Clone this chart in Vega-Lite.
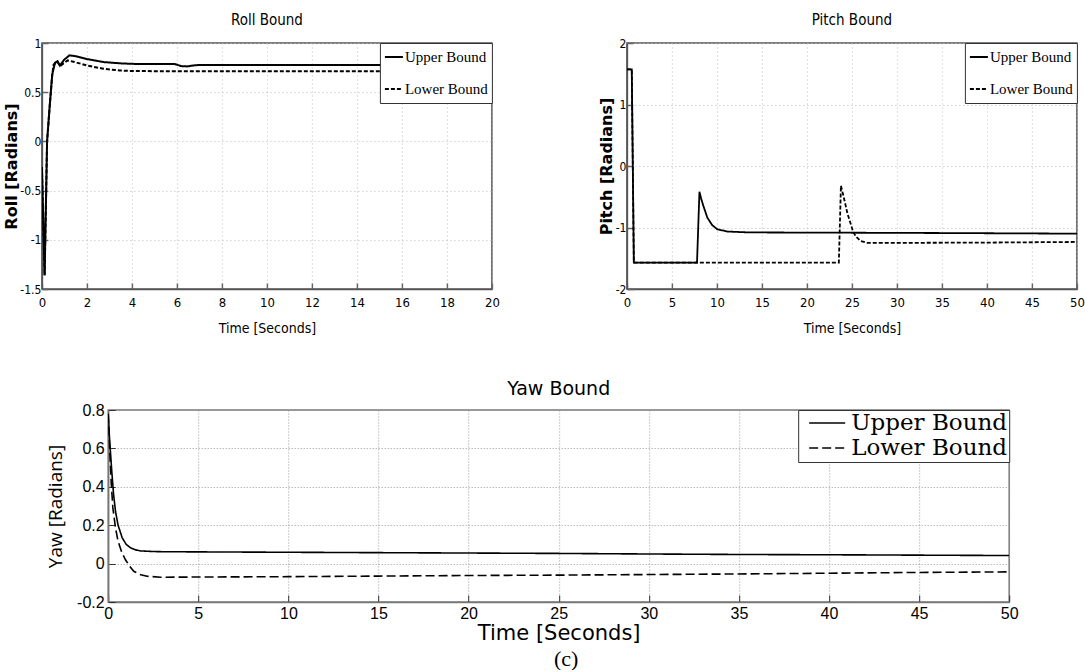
{
  "$schema": "https://vega.github.io/schema/vega-lite/v6.json",
  "background": "white",
  "padding": {"left": 2.5, "top": 12, "right": 0, "bottom": 0},
  "title": {"text": "(c)", "orient": "bottom", "anchor": "middle", "font": "Liberation Serif", "fontSize": 22, "fontWeight": "normal", "color": "black", "offset": 5, "dx": 22},
  "config": {
    "view": {"stroke": "#555", "strokeWidth": 1.5},
    "axis": {"labelColor": "black", "titleColor": "black", "labelFlush": false, "labelOverlap": false, "grid": true, "gridDash": [1, 3], "gridColor": "#bbb", "domainColor": "#555", "domainWidth": 1.5, "tickColor": "#666", "tickWidth": 1.5, "tickSize": -6, "titleFontWeight": "normal"}
  },
  "center": true,
  "spacing": 43,
  "resolve": {"scale": {"strokeDash": "independent"}, "legend": {"strokeDash": "independent"}},
  "vconcat": [
    {
      "hconcat": [
        {
          "width": 450, "height": 246,
          "title": {"text": "Roll Bound", "font": "DejaVu Sans Condensed, sans-serif", "fontSize": 15, "fontWeight": "normal", "color": "black", "offset": 9},
          "data": {"name": "roll"},
          "mark": {"type": "line", "strokeWidth": 2, "color": "black", "clip": true},
          "encoding": {
            "x": {"field": "t", "type": "quantitative", "scale": {"domain": [0, 20], "nice": false, "zero": false},
              "axis": {"values": [0, 2, 4, 6, 8, 10, 12, 14, 16, 18, 20], "title": "Time [Seconds]", "titleFont": "DejaVu Sans Condensed, sans-serif", "titleFontSize": 14, "titlePadding": 12, "labelFont": "DejaVu Sans Condensed, sans-serif", "labelFontSize": 13, "labelPadding": 13}},
            "y": {"field": "v", "type": "quantitative", "scale": {"domain": [-1.5, 1], "nice": false, "zero": false},
              "axis": {"values": [-1.5, -1, -0.5, 0, 0.5, 1], "labelExpr": "datum.value + ''", "title": "Roll [Radians]", "titleFont": "DejaVu Sans", "titleFontWeight": "bold", "titleFontSize": 16, "titlePadding": 0, "labelFont": "DejaVu Sans Condensed, sans-serif", "labelFontSize": 12, "labelPadding": 7}},
            "strokeDash": {"field": "bound", "type": "nominal", "scale": {"domain": ["Upper Bound", "Lower Bound"], "range": [[1, 0], [4, 2]]},
              "legend": {"title": null, "orient": "top-right", "offset": 0, "padding": 4, "fillColor": "white", "strokeColor": "#333", "labelFont": "Liberation Serif", "labelFontSize": 15, "labelColor": "black", "symbolType": "stroke", "symbolSize": 324, "symbolStrokeWidth": 1.8, "symbolStrokeColor": "black", "labelOffset": 1, "clipHeight": 20, "rowPadding": 12, "labelLimit": 300}}
          }
        },
        {
          "width": 450, "height": 246,
          "title": {"text": "Pitch Bound", "font": "DejaVu Sans Condensed, sans-serif", "fontSize": 15, "fontWeight": "normal", "color": "black", "offset": 9},
          "data": {"name": "pitch"},
          "mark": {"type": "line", "strokeWidth": 1.8, "color": "black", "clip": true},
          "encoding": {
            "x": {"field": "t", "type": "quantitative", "scale": {"domain": [0, 50], "nice": false, "zero": false},
              "axis": {"values": [0, 5, 10, 15, 20, 25, 30, 35, 40, 45, 50], "title": "Time [Seconds]", "titleFont": "DejaVu Sans Condensed, sans-serif", "titleFontSize": 14, "titlePadding": 12, "labelFont": "DejaVu Sans Condensed, sans-serif", "labelFontSize": 13, "labelPadding": 13}},
            "y": {"field": "v", "type": "quantitative", "scale": {"domain": [-2, 2], "nice": false, "zero": false},
              "axis": {"values": [-2, -1, 0, 1, 2], "labelExpr": "datum.value + ''", "title": "Pitch [Radians]", "titleFont": "DejaVu Sans", "titleFontWeight": "bold", "titleFontSize": 16, "titlePadding": 1, "labelFont": "DejaVu Sans Condensed, sans-serif", "labelFontSize": 12, "labelPadding": 7}},
            "strokeDash": {"field": "bound", "type": "nominal", "scale": {"domain": ["Upper Bound", "Lower Bound"], "range": [[1, 0], [4, 2]]},
              "legend": {"title": null, "orient": "top-right", "offset": 0, "padding": 4, "fillColor": "white", "strokeColor": "#333", "labelFont": "Liberation Serif", "labelFontSize": 15, "labelColor": "black", "symbolType": "stroke", "symbolSize": 324, "symbolStrokeWidth": 1.8, "symbolStrokeColor": "black", "labelOffset": 1, "clipHeight": 20, "rowPadding": 12, "labelLimit": 300}}
          }
        }
      ],
      "spacing": 135,
      "bounds": "flush",
      "resolve": {"scale": {"strokeDash": "independent"}, "legend": {"strokeDash": "independent"}}
    },
    {
      "width": 901, "height": 192,
      "title": {"text": "Yaw Bound", "font": "DejaVu Sans", "fontSize": 19, "fontWeight": "normal", "color": "black", "offset": 3},
      "view": {"stroke": "#777", "strokeWidth": 1.5},
      "data": {"name": "yaw"},
      "mark": {"type": "line", "strokeWidth": 1.6, "color": "black", "clip": true},
      "encoding": {
        "x": {"field": "t", "type": "quantitative", "scale": {"domain": [0, 50], "nice": false, "zero": false},
          "axis": {"values": [0, 5, 10, 15, 20, 25, 30, 35, 40, 45, 50], "title": "Time [Seconds]", "titleFont": "DejaVu Sans", "titleFontSize": 21, "titlePadding": 1, "labelFont": "Liberation Sans", "labelFontSize": 16, "labelPadding": 10, "tickSize": -7, "tickColor": "#333", "tickWidth": 1, "gridColor": "#999", "gridDash": [1, 2], "domainColor": "#777"}},
        "y": {"field": "v", "type": "quantitative", "scale": {"domain": [-0.2, 0.8], "nice": false, "zero": false},
          "axis": {"values": [-0.2, 0, 0.2, 0.4, 0.6, 0.8], "labelExpr": "datum.value + ''", "title": "Yaw [Radians]", "titleFont": "Open Sans", "titleFontSize": 19, "titlePadding": 11, "labelFont": "Liberation Sans", "labelFontSize": 16, "labelPadding": 11, "tickSize": -7, "tickColor": "#333", "tickWidth": 1, "gridColor": "#999", "gridDash": [1, 2], "domainColor": "#777"}},
        "strokeDash": {"field": "bound", "type": "nominal", "scale": {"domain": ["Upper Bound", "Lower Bound"], "range": [[1, 0], [9, 4]]},
          "legend": {"title": null, "orient": "top-right", "offset": 0, "padding": 2, "fillColor": "white", "strokeColor": "#333", "labelFont": "DejaVu Serif", "labelFontSize": 23, "labelColor": "black", "symbolType": "stroke", "symbolSize": 1296, "symbolStrokeWidth": 1.5, "symbolStrokeColor": "black", "symbolOffset": 8, "labelOffset": 5, "clipHeight": 22, "rowPadding": 2, "labelLimit": 400}}
      }
    }
  ],
  "datasets": {
    "roll": [
      {"t": 0, "v": -0.26, "bound": "Upper Bound"},
      {"t": 0.12, "v": -1.36, "bound": "Upper Bound"},
      {"t": 0.23, "v": 0.0, "bound": "Upper Bound"},
      {"t": 0.35, "v": 0.37, "bound": "Upper Bound"},
      {"t": 0.46, "v": 0.68, "bound": "Upper Bound"},
      {"t": 0.58, "v": 0.8, "bound": "Upper Bound"},
      {"t": 0.69, "v": 0.815, "bound": "Upper Bound"},
      {"t": 0.8, "v": 0.77, "bound": "Upper Bound"},
      {"t": 0.99, "v": 0.83, "bound": "Upper Bound"},
      {"t": 1.22, "v": 0.874, "bound": "Upper Bound"},
      {"t": 1.45, "v": 0.868, "bound": "Upper Bound"},
      {"t": 2.0, "v": 0.837, "bound": "Upper Bound"},
      {"t": 2.75, "v": 0.806, "bound": "Upper Bound"},
      {"t": 3.5, "v": 0.793, "bound": "Upper Bound"},
      {"t": 4.0, "v": 0.788, "bound": "Upper Bound"},
      {"t": 5.0, "v": 0.786, "bound": "Upper Bound"},
      {"t": 5.9, "v": 0.786, "bound": "Upper Bound"},
      {"t": 6.2, "v": 0.765, "bound": "Upper Bound"},
      {"t": 6.45, "v": 0.762, "bound": "Upper Bound"},
      {"t": 6.75, "v": 0.772, "bound": "Upper Bound"},
      {"t": 7.0, "v": 0.777, "bound": "Upper Bound"},
      {"t": 10, "v": 0.777, "bound": "Upper Bound"},
      {"t": 15, "v": 0.777, "bound": "Upper Bound"},
      {"t": 20, "v": 0.777, "bound": "Upper Bound"},
      {"t": 0, "v": -0.26, "bound": "Lower Bound"},
      {"t": 0.12, "v": -1.36, "bound": "Lower Bound"},
      {"t": 0.23, "v": 0.0, "bound": "Lower Bound"},
      {"t": 0.35, "v": 0.37, "bound": "Lower Bound"},
      {"t": 0.46, "v": 0.68, "bound": "Lower Bound"},
      {"t": 0.52, "v": 0.78, "bound": "Lower Bound"},
      {"t": 0.7, "v": 0.81, "bound": "Lower Bound"},
      {"t": 0.8, "v": 0.765, "bound": "Lower Bound"},
      {"t": 0.96, "v": 0.793, "bound": "Lower Bound"},
      {"t": 1.15, "v": 0.823, "bound": "Lower Bound"},
      {"t": 1.4, "v": 0.81, "bound": "Lower Bound"},
      {"t": 2.0, "v": 0.772, "bound": "Lower Bound"},
      {"t": 2.73, "v": 0.738, "bound": "Lower Bound"},
      {"t": 3.47, "v": 0.721, "bound": "Lower Bound"},
      {"t": 4.0, "v": 0.715, "bound": "Lower Bound"},
      {"t": 5.0, "v": 0.714, "bound": "Lower Bound"},
      {"t": 10, "v": 0.714, "bound": "Lower Bound"},
      {"t": 20, "v": 0.714, "bound": "Lower Bound"}
    ],
    "pitch": [
      {"t": 0, "v": 1.57, "bound": "Upper Bound"},
      {"t": 0.54, "v": 1.57, "bound": "Upper Bound"},
      {"t": 0.77, "v": -1.57, "bound": "Upper Bound"},
      {"t": 7.79, "v": -1.57, "bound": "Upper Bound"},
      {"t": 8.06, "v": -0.42, "bound": "Upper Bound"},
      {"t": 8.25, "v": -0.53, "bound": "Upper Bound"},
      {"t": 8.5, "v": -0.65, "bound": "Upper Bound"},
      {"t": 8.94, "v": -0.84, "bound": "Upper Bound"},
      {"t": 9.47, "v": -0.96, "bound": "Upper Bound"},
      {"t": 10.05, "v": -1.03, "bound": "Upper Bound"},
      {"t": 11.2, "v": -1.066, "bound": "Upper Bound"},
      {"t": 13.5, "v": -1.08, "bound": "Upper Bound"},
      {"t": 25, "v": -1.085, "bound": "Upper Bound"},
      {"t": 35, "v": -1.09, "bound": "Upper Bound"},
      {"t": 50, "v": -1.1, "bound": "Upper Bound"},
      {"t": 0, "v": 1.57, "bound": "Lower Bound"},
      {"t": 0.54, "v": 1.57, "bound": "Lower Bound"},
      {"t": 0.77, "v": -1.57, "bound": "Lower Bound"},
      {"t": 23.55, "v": -1.57, "bound": "Lower Bound"},
      {"t": 23.78, "v": -0.32, "bound": "Lower Bound"},
      {"t": 24.0, "v": -0.45, "bound": "Lower Bound"},
      {"t": 24.24, "v": -0.6, "bound": "Lower Bound"},
      {"t": 24.5, "v": -0.77, "bound": "Lower Bound"},
      {"t": 24.82, "v": -0.92, "bound": "Lower Bound"},
      {"t": 25.1, "v": -1.05, "bound": "Lower Bound"},
      {"t": 25.4, "v": -1.14, "bound": "Lower Bound"},
      {"t": 25.97, "v": -1.22, "bound": "Lower Bound"},
      {"t": 26.7, "v": -1.25, "bound": "Lower Bound"},
      {"t": 30, "v": -1.25, "bound": "Lower Bound"},
      {"t": 40, "v": -1.245, "bound": "Lower Bound"},
      {"t": 50, "v": -1.235, "bound": "Lower Bound"}
    ],
    "yaw": [
      {"t": 0, "v": 0.78, "bound": "Upper Bound"},
      {"t": 0.07, "v": 0.66, "bound": "Upper Bound"},
      {"t": 0.2, "v": 0.48, "bound": "Upper Bound"},
      {"t": 0.3, "v": 0.36, "bound": "Upper Bound"},
      {"t": 0.41, "v": 0.27, "bound": "Upper Bound"},
      {"t": 0.55, "v": 0.2, "bound": "Upper Bound"},
      {"t": 0.78, "v": 0.134, "bound": "Upper Bound"},
      {"t": 1.0, "v": 0.1, "bound": "Upper Bound"},
      {"t": 1.24, "v": 0.082, "bound": "Upper Bound"},
      {"t": 1.5, "v": 0.072, "bound": "Upper Bound"},
      {"t": 1.8, "v": 0.066, "bound": "Upper Bound"},
      {"t": 2.5, "v": 0.063, "bound": "Upper Bound"},
      {"t": 3, "v": 0.062, "bound": "Upper Bound"},
      {"t": 5, "v": 0.061, "bound": "Upper Bound"},
      {"t": 10, "v": 0.059, "bound": "Upper Bound"},
      {"t": 15, "v": 0.057, "bound": "Upper Bound"},
      {"t": 20, "v": 0.055, "bound": "Upper Bound"},
      {"t": 25, "v": 0.053, "bound": "Upper Bound"},
      {"t": 30, "v": 0.05, "bound": "Upper Bound"},
      {"t": 35, "v": 0.0475, "bound": "Upper Bound"},
      {"t": 40, "v": 0.046, "bound": "Upper Bound"},
      {"t": 45, "v": 0.044, "bound": "Upper Bound"},
      {"t": 50, "v": 0.042, "bound": "Upper Bound"},
      {"t": 0, "v": 0.78, "bound": "Lower Bound"},
      {"t": 0.08, "v": 0.6, "bound": "Lower Bound"},
      {"t": 0.17, "v": 0.42, "bound": "Lower Bound"},
      {"t": 0.26, "v": 0.29, "bound": "Lower Bound"},
      {"t": 0.4, "v": 0.19, "bound": "Lower Bound"},
      {"t": 0.54, "v": 0.12, "bound": "Lower Bound"},
      {"t": 0.75, "v": 0.06, "bound": "Lower Bound"},
      {"t": 0.96, "v": 0.02, "bound": "Lower Bound"},
      {"t": 1.2, "v": -0.015, "bound": "Lower Bound"},
      {"t": 1.42, "v": -0.04, "bound": "Lower Bound"},
      {"t": 1.8, "v": -0.058, "bound": "Lower Bound"},
      {"t": 2.16, "v": -0.066, "bound": "Lower Bound"},
      {"t": 2.9, "v": -0.071, "bound": "Lower Bound"},
      {"t": 5, "v": -0.07, "bound": "Lower Bound"},
      {"t": 10, "v": -0.068, "bound": "Lower Bound"},
      {"t": 15, "v": -0.065, "bound": "Lower Bound"},
      {"t": 20, "v": -0.062, "bound": "Lower Bound"},
      {"t": 25, "v": -0.06, "bound": "Lower Bound"},
      {"t": 30, "v": -0.057, "bound": "Lower Bound"},
      {"t": 35, "v": -0.054, "bound": "Lower Bound"},
      {"t": 40, "v": -0.05, "bound": "Lower Bound"},
      {"t": 45, "v": -0.046, "bound": "Lower Bound"},
      {"t": 50, "v": -0.043, "bound": "Lower Bound"}
    ]
  }
}
